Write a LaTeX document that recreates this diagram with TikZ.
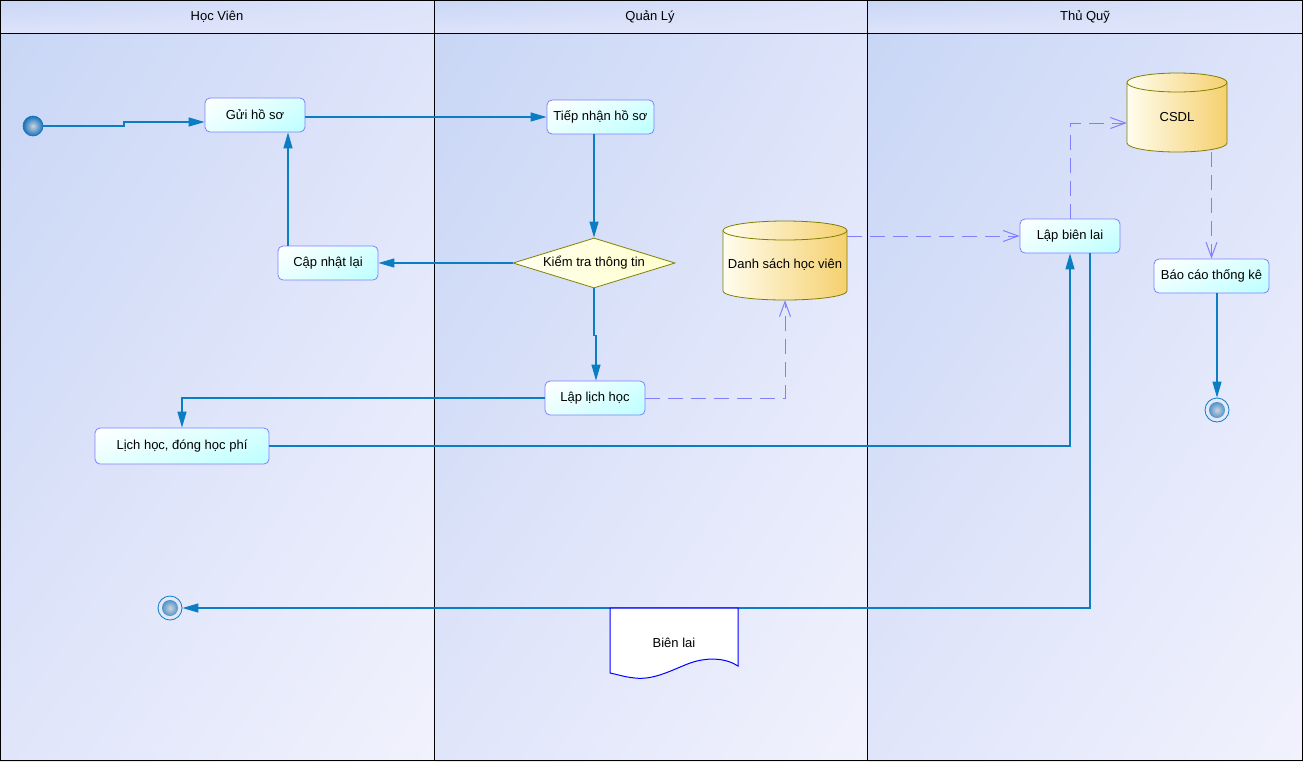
\documentclass[tikz,border=0pt]{standalone}
\usepackage{fontspec}
\setmainfont{Liberation Sans}
\usetikzlibrary{arrows.meta,shapes.geometric,shadings}

% palette
\definecolor{flow}{RGB}{10,125,195}
\definecolor{objflow}{RGB}{128,128,255}
\definecolor{actline}{RGB}{128,128,255}
\definecolor{actA}{RGB}{255,255,255}
\definecolor{actB}{RGB}{215,255,255}
\definecolor{actC}{RGB}{232,255,255}
\definecolor{actD}{RGB}{188,255,255}
\definecolor{bgA}{RGB}{200,214,245}
\definecolor{bgB}{RGB}{222,228,250}
\definecolor{bgC}{RGB}{224,229,250}
\definecolor{bgD}{RGB}{242,242,253}
\definecolor{decline}{RGB}{128,128,0}
\definecolor{decL}{RGB}{255,255,238}
\definecolor{decR}{RGB}{255,255,205}
\definecolor{cylL}{RGB}{255,253,238}
\definecolor{cylR}{RGB}{245,208,110}
\definecolor{cylline}{RGB}{128,128,0}
\definecolor{dotin}{RGB}{205,212,225}
\definecolor{dotout}{RGB}{20,115,185}
\definecolor{docline}{RGB}{0,0,255}

\begin{document}
\begin{tikzpicture}[x=1pt,y=-1pt,
  font=\fontsize{13}{15}\selectfont,
  act/.style={draw=actline, line width=0.8pt, rounded corners=5pt,
    upper left=actA, upper right=actB, lower left=actC, lower right=actD,
    minimum width=100pt, minimum height=34pt, inner sep=0pt},
  decision/.style={diamond, aspect=3.24, draw=decline, line width=0.8pt,
    left color=decL, right color=decR,
    minimum width=162pt, minimum height=50pt, inner sep=0pt},
  store/.style={inner sep=0pt},
  lanehead/.style={inner sep=0pt},
  startdot/.style={circle, draw=dotout, line width=0.6pt, inner sep=0pt,
    minimum size=20pt, inner color=dotin, outer color=dotout},
  enddot/.style={circle, draw=flow, line width=0.8pt, inner sep=0pt,
    minimum size=24pt,
    path picture={\shade[inner color=dotin, outer color=dotout]
      (path picture bounding box.center) circle (8pt);}},
  flowarrow/.style={draw=flow, line width=1.2pt,
    -{Triangle[length=16pt,width=9pt]}},
  objarrow/.style={draw=objflow, line width=1pt, dash pattern=on 15pt off 8pt,
    -{Straight Barb[length=15pt,width=11pt]}},
]
\useasboundingbox (0,0) rectangle (1303,761);

% swimlane backgrounds
\shade[upper left=bgA, upper right=bgB, lower left=bgB, lower right=bgC] (0,0) rectangle (434.5,33);
\shade[upper left=bgA, upper right=bgB, lower left=bgB, lower right=bgC] (434.5,0) rectangle (867.5,33);
\shade[upper left=bgA, upper right=bgB, lower left=bgB, lower right=bgC] (867.5,0) rectangle (1303,33);
\shade[upper left=bgA, upper right=bgB, lower left=bgC, lower right=bgD] (0,33) rectangle (434.5,761);
\shade[upper left=bgA, upper right=bgB, lower left=bgC, lower right=bgD] (434.5,33) rectangle (867.5,761);
\shade[upper left=bgA, upper right=bgB, lower left=bgC, lower right=bgD] (867.5,33) rectangle (1303,761);

% swimlane frame
\draw[black, line width=1pt] (0.5,0.5) rectangle (1302.5,760.5);
\draw[black, line width=1pt] (0.5,33.5) -- (1302.5,33.5);
\draw[black, line width=1pt] (434.5,0.5) -- (434.5,760.5);
\draw[black, line width=1pt] (867.5,0.5) -- (867.5,760.5);

\node[lanehead] (laneStudent) at (217,17) {Học Viên};
\node[lanehead] (laneManager) at (650,17) {Quản Lý};
\node[lanehead] (laneCashier) at (1085,17) {Thủ Quỹ};

% data stores
\shadedraw[left color=cylL, right color=cylR, draw=cylline, line width=0.8pt]
  (723,291) arc[start angle=180, end angle=360, x radius=62pt, y radius=9pt]
  -- (847,230.5) arc[start angle=0, end angle=180, x radius=62pt, y radius=9.5pt] -- cycle;
\draw[cylline, line width=0.8pt]
  (723,230.5) arc[start angle=180, end angle=360, x radius=62pt, y radius=9.5pt];
\node[store, minimum width=124pt, minimum height=70pt] (students) at (785,265) {Danh sách học viên};

\shadedraw[left color=cylL, right color=cylR, draw=cylline, line width=0.8pt]
  (1127,143) arc[start angle=180, end angle=360, x radius=50pt, y radius=9pt]
  -- (1227,82.5) arc[start angle=0, end angle=180, x radius=50pt, y radius=9.5pt] -- cycle;
\draw[cylline, line width=0.8pt]
  (1127,82.5) arc[start angle=180, end angle=360, x radius=50pt, y radius=9.5pt];
\node[store, minimum width=100pt, minimum height=70pt] (csdl) at (1177,117) {CSDL};

% activities
\node[startdot] (init) at (33,126) {};
\node[act] (send) at (255,115) {Gửi hồ sơ};
\node[act, minimum width=107pt] (recv) at (600.5,117) {Tiếp nhận hồ sơ};
\node[act] (upd) at (328,263) {Cập nhật lại};
\node[decision] (check) at (594,263) {Kiểm tra thông tin};
\node[act] (sched) at (595,398) {Lập lịch học};
\node[act, minimum width=174pt, minimum height=36pt] (fee) at (182,446) {Lịch học, đóng học phí};
\node[act] (rcpt) at (1070,236) {Lập biên lai};
\node[act, minimum width=115pt] (report) at (1211.5,276) {Báo cáo thống kê};
\node[enddot] (finA) at (1217,410) {};
\node[enddot] (finB) at (170,608) {};

% control flow
\draw[flowarrow] (init.east) -- (124,126) -- (124,122) -- ([yshift=-7pt]send.west);
\draw[flowarrow] (send.east |- recv.west) -- (recv.west);
\draw[flowarrow] (check.north |- recv.south) -- (check.north);
\draw[flowarrow] (check.west) -- (upd.east);
\draw[flowarrow] ([xshift=-40pt]upd.north) -- ([xshift=33pt]send.south);
\draw[flowarrow] (check.south) -- ++(0,47) -| ([xshift=1pt]sched.north);
\draw[flowarrow] (sched.west) -| (fee.north);
\draw[flowarrow] (fee.east) -| (rcpt.south);
\draw[flowarrow] ([xshift=20pt]rcpt.south) |- (finB.east);
\draw[flowarrow] ([xshift=5.5pt]report.south) -- (finA.north);

% object flow
\draw[objarrow] (sched.east) -| (students.south);
\draw[objarrow] (students.east |- rcpt.west) -- (rcpt.west);
\draw[objarrow] (rcpt.north) |- ([yshift=-6pt]csdl.west);
\draw[objarrow] (report.north |- csdl.south) -- (report.north);

% receipt document
\filldraw[fill=white, draw=docline, line width=1pt]
  (610,608) -- (738,608) -- (738,666)
  .. controls (726,658) and (706,656) .. (685,665)
  .. controls (668,672) and (652,680) .. (635,678)
  .. controls (624,677) and (616,674) .. (610,673) -- cycle;
\node (receipt) at (674,643) {Biên lai};
\end{tikzpicture}
\end{document}
